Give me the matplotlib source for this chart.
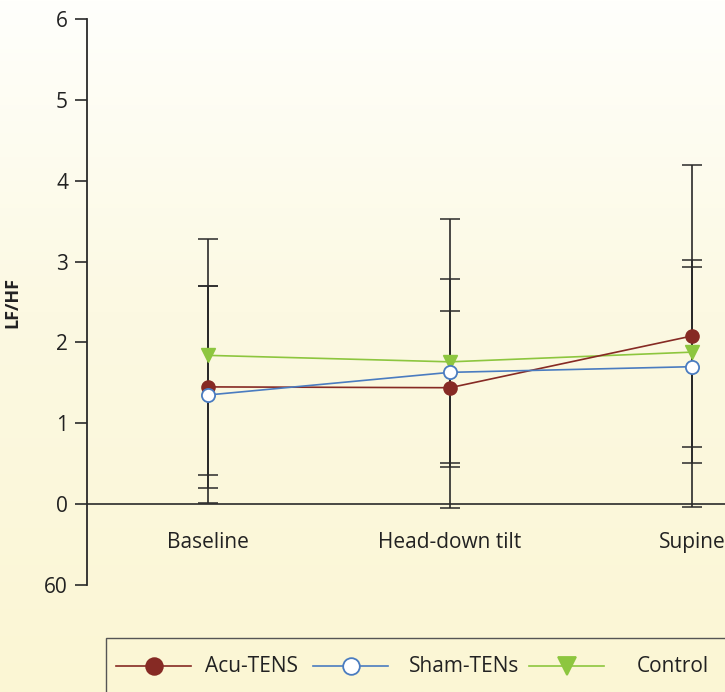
import matplotlib
matplotlib.use('Agg')
import matplotlib.pyplot as plt
from matplotlib.lines import Line2D
import matplotlib.patches as patches
from matplotlib.colors import LinearSegmentedColormap
import numpy as np

plt.rcParams['font.family'] = ['Open Sans', 'DejaVu Sans']

# Data
phases = ['Baseline', 'Head-down tilt', 'Supine']
acu = [1.45, 1.44, 2.08]
acu_low = [0.20, 0.51, -0.04]
acu_high = [2.70, 2.39, 4.20]
sham = [1.35, 1.63, 1.70]
sham_low = [0.02, 0.46, 0.51]
sham_high = [2.70, 2.79, 2.93]
ctrl = [1.84, 1.76, 1.88]
ctrl_low = [0.36, -0.05, 0.71]
ctrl_high = [3.28, 3.53, 3.02]
y_ticks = [-1, 0, 1, 2, 3, 4, 5, 6]
y_tick_labels = ['60', '0', '1', '2', '3', '4', '5', '6']

RED = '#862a24'
BLUE = '#4a7cc0'
GREEN = '#8dc63f'
INK = '#2a2a2a'
TXT = '#222222'

W, H = 725, 692
fig = plt.figure(figsize=(W / 100, H / 100), dpi=100)

# Background gradient (white at top -> pale yellow)
bg = fig.add_axes([0, 0, 1, 1], zorder=-10)
cmap = LinearSegmentedColormap.from_list(
    'bg', [(0, '#fbf6d4'), (0.55, '#fcf9e2'), (1, '#fffffc')])
bg.imshow(np.linspace(0, 1, 256).reshape(-1, 1), cmap=cmap, aspect='auto',
          extent=[0, 1, 0, 1], origin='lower')
bg.axis('off')

ax = fig.add_axes([87 / W, 107 / H, 1 - 87 / W, (673 - 107) / H])
ax.set_facecolor('none')
x = np.arange(len(phases))

# Error bars
for vals, lo, hi in [(acu, acu_low, acu_high), (sham, sham_low, sham_high), (ctrl, ctrl_low, ctrl_high)]:
    v = np.array(vals)
    err = [v - np.array(lo), np.array(hi) - v]
    ax.errorbar(x, v, yerr=err, fmt='none', ecolor=INK, elinewidth=1.2,
                capsize=7, capthick=1.1, zorder=2, clip_on=False)

ax.plot(x, acu, color=RED, lw=1.2, marker='o', ms=9.5, mfc=RED, mec=RED,
        zorder=4, clip_on=False)
ax.plot(x, sham, color=BLUE, lw=1.2, marker='o', ms=9.5, mfc='white', mec=BLUE, mew=1.3,
        zorder=4, clip_on=False)
ax.plot(x, ctrl, color=GREEN, lw=1.2, marker='v', ms=10.5, mfc=GREEN, mec=GREEN,
        zorder=3, clip_on=False)

ax.axhline(0, color=INK, lw=1.2, zorder=1)

ax.set_xlim(-0.5, 2.136)
ax.set_ylim(-1, 6)
ax.set_xticks([])
ax.set_yticks(y_ticks)
ax.set_yticklabels(y_tick_labels)
ax.tick_params(axis='y', length=8.6, width=1.2, color=INK, labelsize=15,
               labelcolor=TXT, pad=5)
for s in ['top', 'right', 'bottom']:
    ax.spines[s].set_visible(False)
ax.spines['left'].set_color(INK)
ax.spines['left'].set_linewidth(1.3)

for xi, name in zip(x, phases):
    ax.text(xi, -0.48, name, ha='center', va='center', fontsize=15, color=TXT)

ax.set_ylabel('LF/HF', fontsize=13, fontweight='bold', color=TXT)
ax.yaxis.set_label_coords(-0.103, 0.5)

# Legend box running off the figure edge, drawn by hand
fig.patches.append(patches.Rectangle((106 / W, -0.05), 1.0, (H - 638) / H + 0.05,
                                     transform=fig.transFigure, facecolor='none',
                                     edgecolor='#555555', lw=1.0, zorder=5))
ly = (H - 666) / H
legend_items = [
    ('Acu-TENS', RED, 'o', RED, 116, 191, 205),
    ('Sham-TENs', BLUE, 'o', 'white', 313, 388, 409),
    ('Control', GREEN, 'v', GREEN, 529, 604, 637),
]
for label, col, mk, face, x0, x1, tx in legend_items:
    fig.add_artist(Line2D([x0 / W, x1 / W], [ly, ly], color=col, lw=1.2,
                          transform=fig.transFigure))
    fig.add_artist(Line2D([(x0 + x1) / 2 / W], [ly], color=col, marker=mk,
                          ms=12 if mk == 'o' else 13, mfc=face, mec=col, mew=1.3,
                          transform=fig.transFigure))
    fig.text(tx / W, ly, label, ha='left', va='center', fontsize=15, color=TXT)

fig.savefig('out.png', dpi=100)
